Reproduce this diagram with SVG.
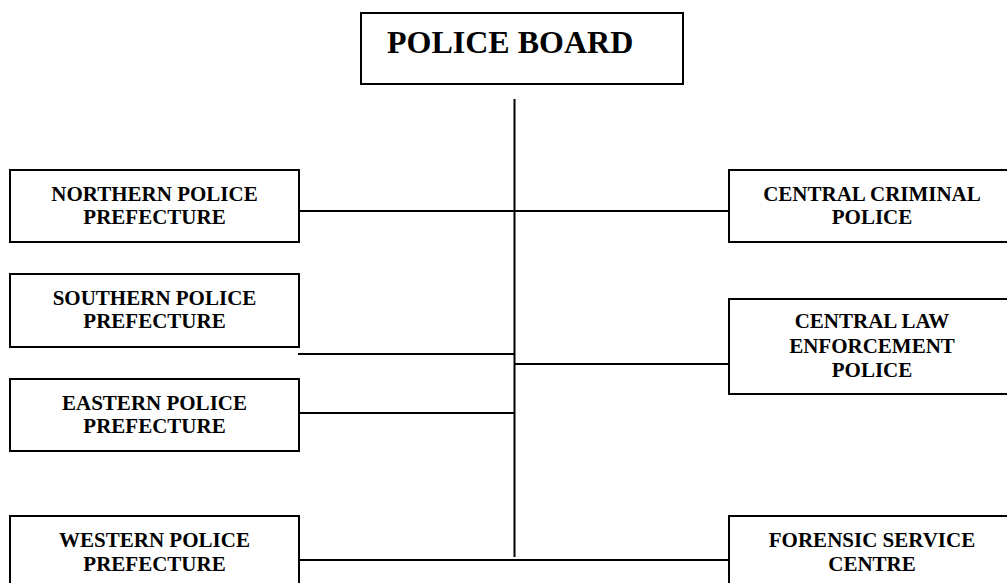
<svg xmlns="http://www.w3.org/2000/svg" width="1007" height="583" viewBox="0 0 1007 583">
<style>
.box{fill:#fff;stroke:#000;stroke-width:2}
.t{font-family:"Liberation Serif","Times New Roman",serif;font-weight:bold;font-size:21px;fill:#000;text-anchor:middle}
.title{font-family:"Liberation Serif","Times New Roman",serif;font-weight:bold;font-size:32px;fill:#000}
.c{stroke:#000;stroke-width:2;fill:none}
</style>
<rect width="1007" height="583" fill="#fff"/>
<g id="connectors">
<line class="c" x1="514.5" y1="99" x2="514.5" y2="557"/>
<line class="c" x1="299" y1="211" x2="730" y2="211"/>
<line class="c" x1="298" y1="354" x2="515" y2="354"/>
<line class="c" x1="514" y1="364" x2="729" y2="364"/>
<line class="c" x1="299" y1="413" x2="515" y2="413"/>
<line class="c" x1="299" y1="560" x2="539" y2="560"/>
<line class="c" x1="539" y1="560" x2="729" y2="560"/>
</g>
<g id="police-board">
<rect class="box" x="361" y="13" width="322" height="71"/>
<text class="title" x="387" y="53">POLICE BOARD</text>
</g>
<g id="northern">
<rect class="box" x="10" y="170" width="289" height="72"/>
<text class="t" x="154.5" y="201">NORTHERN POLICE</text>
<text class="t" x="154.5" y="224">PREFECTURE</text>
</g>
<g id="southern">
<rect class="box" x="10" y="274" width="289" height="73"/>
<text class="t" x="154.5" y="305">SOUTHERN POLICE</text>
<text class="t" x="154.5" y="328">PREFECTURE</text>
</g>
<g id="eastern">
<rect class="box" x="10" y="379" width="289" height="72"/>
<text class="t" x="154.5" y="410">EASTERN POLICE</text>
<text class="t" x="154.5" y="433">PREFECTURE</text>
</g>
<g id="western">
<rect class="box" x="10" y="516" width="289" height="90"/>
<text class="t" x="154.5" y="547">WESTERN POLICE</text>
<text class="t" x="154.5" y="571">PREFECTURE</text>
</g>
<g id="central-criminal">
<rect class="box" x="729" y="170" width="290" height="72"/>
<text class="t" x="872" y="201">CENTRAL CRIMINAL</text>
<text class="t" x="872" y="224">POLICE</text>
</g>
<g id="central-law">
<rect class="box" x="729" y="299" width="290" height="95"/>
<text class="t" x="872" y="328">CENTRAL LAW</text>
<text class="t" x="872" y="353">ENFORCEMENT</text>
<text class="t" x="872" y="377">POLICE</text>
</g>
<g id="forensic">
<rect class="box" x="729" y="516" width="290" height="90"/>
<text class="t" x="872" y="547">FORENSIC SERVICE</text>
<text class="t" x="872" y="571">CENTRE</text>
</g>
</svg>
